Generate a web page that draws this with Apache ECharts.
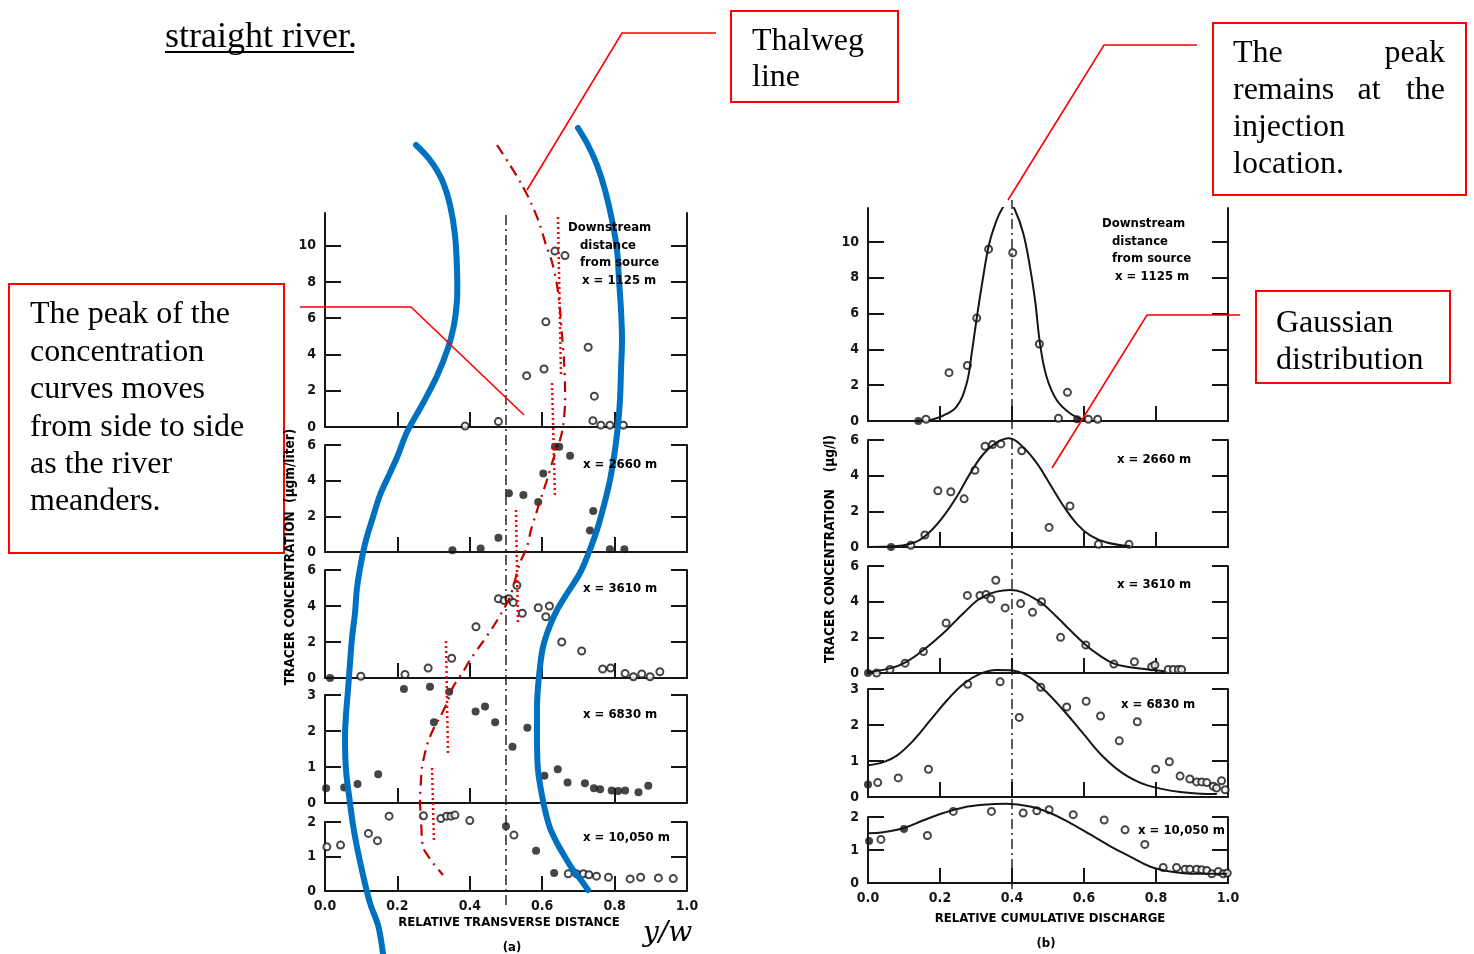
<!DOCTYPE html>
<html>
<head>
<meta charset="utf-8">
<script src="https://cdn.jsdelivr.net/npm/echarts@6/dist/echarts.min.js"></script>
<title>Tracer concentration profiles</title>
<style>
  html, body { margin: 0; padding: 0; background: #fff; }
</style>
</head>
<body>
<div id="main" style="width:1474px;height:954px;"></div>
<script type="text/javascript">
// downstream stations and tick values
var distances = ['1125', '2660', '3610', '6830', '10,050'];
var xTicks = [0, 0.2, 0.4, 0.6, 0.8, 1.0];
var yTicks = [[0, 2, 4, 6, 8, 10], [0, 2, 4, 6], [0, 2, 4, 6], [0, 1, 2, 3], [0, 1, 2]];
var peakLineA = 0.5;   // dash-dot line, panel (a)
var peakLineB = 0.4;   // dash-dot line, panel (b)

// (a) relative transverse distance vs concentration
var a1125 = [[0.387,0.05],[0.479,0.3],[0.557,2.83],[0.605,3.2],[0.61,5.8],[0.635,9.7],[0.663,9.45],[0.727,4.4],[0.744,1.7],[0.74,0.35],[0.762,0.1],[0.787,0.1],[0.824,0.1]];
var a1125f = [];
var a2660 = [];
var a2660f = [[0.352,0.1],[0.43,0.2],[0.479,0.8],[0.508,3.3],[0.548,3.2],[0.589,2.8],[0.603,4.4],[0.635,5.9],[0.647,5.9],[0.677,5.4],[0.741,2.3],[0.732,1.2],[0.787,0.15],[0.827,0.15]];
var a3610 = [[0.099,0.1],[0.221,0.2],[0.285,0.55],[0.35,1.1],[0.417,2.85],[0.479,4.4],[0.495,4.3],[0.508,4.4],[0.52,4.2],[0.53,5.15],[0.545,3.6],[0.589,3.9],[0.62,4.0],[0.61,3.4],[0.654,2.0],[0.709,1.5],[0.767,0.5],[0.789,0.55],[0.829,0.25],[0.852,0.07],[0.875,0.22],[0.898,0.07],[0.925,0.35]];
var a3610f = [[0.014,0.0]];
var a6830 = [];
var a6830f = [[0.003,0.41],[0.053,0.43],[0.09,0.53],[0.147,0.8],[0.218,3.17],[0.29,3.23],[0.343,3.09],[0.301,2.24],[0.416,2.54],[0.442,2.68],[0.47,2.24],[0.518,1.56],[0.559,2.09],[0.606,0.76],[0.643,0.94],[0.67,0.57],[0.718,0.55],[0.743,0.41],[0.76,0.38],[0.792,0.35],[0.81,0.33],[0.829,0.35],[0.866,0.3],[0.893,0.48]];
var a10050 = [[0.005,1.28],[0.043,1.33],[0.12,1.67],[0.145,1.46],[0.177,2.17],[0.272,2.18],[0.32,2.1],[0.336,2.17],[0.348,2.17],[0.359,2.2],[0.4,2.04],[0.522,1.62],[0.672,0.5],[0.695,0.5],[0.714,0.5],[0.729,0.47],[0.75,0.43],[0.783,0.4],[0.843,0.35],[0.872,0.4],[0.921,0.38],[0.962,0.36]];
var a10050f = [[0.5,1.88],[0.583,1.17],[0.633,0.52]];

// (b) relative cumulative discharge vs concentration
var b1125 = [[0.161,0.1],[0.225,2.7],[0.276,3.1],[0.302,5.75],[0.335,9.6],[0.402,9.4],[0.476,4.3],[0.554,1.6],[0.529,0.15],[0.612,0.1],[0.638,0.1]];
var b1125f = [[0.14,0],[0.581,0.1]];
var b2660 = [[0.119,0.1],[0.158,0.67],[0.194,3.15],[0.23,3.1],[0.267,2.7],[0.297,4.3],[0.325,5.65],[0.346,5.75],[0.369,5.78],[0.427,5.4],[0.503,1.1],[0.561,2.3],[0.64,0.15],[0.725,0.15]];
var b2660f = [[0.064,0]];
var b3610 = [[0.024,0],[0.061,0.2],[0.103,0.55],[0.154,1.2],[0.217,2.8],[0.276,4.35],[0.311,4.35],[0.328,4.4],[0.341,4.15],[0.355,5.2],[0.381,3.65],[0.424,3.9],[0.457,3.4],[0.482,4.0],[0.535,2.0],[0.605,1.57],[0.683,0.5],[0.74,0.63],[0.788,0.35],[0.797,0.45],[0.834,0.2],[0.848,0.2],[0.862,0.2],[0.871,0.2]];
var b3610f = [[0,0]];
var b6830 = [[0.027,0.4],[0.084,0.53],[0.168,0.77],[0.277,3.13],[0.367,3.2],[0.42,2.21],[0.48,3.05],[0.552,2.5],[0.606,2.66],[0.646,2.25],[0.698,1.56],[0.748,2.09],[0.799,0.77],[0.837,0.98],[0.867,0.58],[0.894,0.5],[0.913,0.42],[0.927,0.42],[0.941,0.4],[0.959,0.3],[0.968,0.25],[0.982,0.45],[0.992,0.2]];
var b6830f = [[0,0.35]];
var b10050 = [[0.036,1.32],[0.165,1.44],[0.237,2.17],[0.343,2.17],[0.431,2.12],[0.469,2.19],[0.503,2.22],[0.57,2.07],[0.656,1.91],[0.714,1.61],[0.769,1.17],[0.82,0.47],[0.857,0.47],[0.881,0.42],[0.894,0.42],[0.913,0.42],[0.927,0.4],[0.941,0.38],[0.955,0.28],[0.973,0.35],[0.987,0.28],[0.998,0.3]];
var b10050f = [[0.003,1.27],[0.1,1.64]];

// fitted gaussian curves in (b)
var bFit1125 = [[0.171,0.05],[0.209,0.3],[0.246,0.8],[0.274,2.1],[0.288,3.78],[0.302,5.74],[0.32,8.06],[0.337,9.93],[0.357,11.2],[0.371,11.8],[0.39,12.3],[0.408,11.8],[0.431,10.5],[0.45,8.6],[0.464,6.76],[0.478,4.3],[0.496,2.47],[0.524,1.17],[0.561,0.43],[0.598,0.06]];
var bFit2660 = [[0,0],[0.08,0.05],[0.135,0.3],[0.172,0.85],[0.209,1.7],[0.246,2.8],[0.283,4.1],[0.32,5.2],[0.357,5.85],[0.392,6.1],[0.431,5.6],[0.469,4.7],[0.506,3.5],[0.543,2.3],[0.58,1.3],[0.617,0.65],[0.663,0.25],[0.728,0.05]];
var bFit3610 = [[0,0.05],[0.061,0.26],[0.107,0.63],[0.154,1.29],[0.209,2.23],[0.265,3.35],[0.32,4.28],[0.394,4.65],[0.469,4.1],[0.524,3.16],[0.561,2.41],[0.605,1.57],[0.635,1.1],[0.681,0.54],[0.728,0.32],[0.777,0.2],[0.824,0.1]];
var bFit6830 = [[0,0.88],[0.043,0.97],[0.08,1.15],[0.126,1.57],[0.172,2.12],[0.219,2.68],[0.265,3.14],[0.311,3.42],[0.357,3.53],[0.394,3.52],[0.44,3.38],[0.487,3.0],[0.543,2.41],[0.598,1.76],[0.654,1.11],[0.709,0.65],[0.774,0.33],[0.867,0.14],[0.969,0.08]];
var bFit10050 = [[0,1.51],[0.043,1.54],[0.098,1.66],[0.154,1.9],[0.209,2.12],[0.265,2.29],[0.32,2.37],[0.385,2.4],[0.45,2.32],[0.506,2.12],[0.561,1.82],[0.617,1.47],[0.672,1.12],[0.728,0.8],[0.783,0.5],[0.839,0.35],[0.913,0.28],[0.997,0.28]];

var openA = [a1125, a2660, a3610, a6830, a10050];
var fillA = [a1125f, a2660f, a3610f, a6830f, a10050f];
var openB = [b1125, b2660, b3610, b6830, b10050];
var fillB = [b1125f, b2660f, b3610f, b6830f, b10050f];
var fitsB = [bFit1125, bFit2660, bFit3610, bFit6830, bFit10050];

// ---- layout (pixels): [top, zeroLine, yMax] per strip ----
var panels = [
  { left: 325, width: 362, rows: [[213, 427, 11.8], [445, 552, 6], [570, 678, 6], [695, 803, 3], [822, 891, 2]],
    open: openA, fill: fillA, fits: null, center: peakLineA, cTop: 212, cBottom: 905 },
  { left: 868, width: 360, rows: [[208, 421, 11.9], [440, 547, 6], [566, 673, 6], [689, 797, 3], [817, 883, 2]],
    open: openB, fill: fillB, fits: fitsB, center: peakLineB, cTop: 200, cBottom: 889 }
];

var INK = '#161616';
var tickFont = { color: INK, fontSize: 14, fontWeight: 'bold', fontFamily: '"DejaVu Sans Condensed", "DejaVu Sans", sans-serif' };

var grids = [], xAxes = [], yAxes = [], series = [];

panels.forEach(function (p, pi) {
  p.rows.forEach(function (row, ri) {
    var gi = grids.length;
    grids.push({ left: p.left, width: p.width, top: row[0], height: row[1] - row[0], outerBoundsMode: 'none' });
    xAxes.push({
      gridIndex: gi, type: 'value', min: 0, max: 1,
      axisLine: { show: true, onZero: false, lineStyle: { color: INK, width: 2 } },
      axisTick: { show: true, inside: true, length: 15, customValues: [0.2, 0.4, 0.6, 0.8], lineStyle: { color: INK, width: 2 } },
      axisLabel: Object.assign({ show: ri === 4, margin: 8, customValues: xTicks, formatter: function (v) { return v.toFixed(1); } }, tickFont),
      splitLine: { show: false }
    });
    var ticks = yTicks[ri];
    var inner = ticks.filter(function (t) { return t > 0; });
    yAxes.push({
      gridIndex: gi, type: 'value', min: 0, max: row[2], position: 'left',
      axisLine: { show: true, onZero: false, lineStyle: { color: INK, width: 2 } },
      axisTick: { show: true, inside: true, length: 16, customValues: inner, lineStyle: { color: INK, width: 2 } },
      axisLabel: Object.assign({ margin: 9, customValues: ticks }, tickFont),
      splitLine: { show: false }
    });
    yAxes.push({
      gridIndex: gi, type: 'value', min: 0, max: row[2], position: 'right',
      axisLine: { show: true, onZero: false, lineStyle: { color: INK, width: 2 } },
      axisTick: { show: true, inside: true, length: 16, customValues: inner, lineStyle: { color: INK, width: 2 } },
      axisLabel: { show: false },
      splitLine: { show: false }
    });
    var yi = yAxes.length - 2;
    if (p.fits) {
      series.push({
        type: 'line', xAxisIndex: gi, yAxisIndex: yi, data: p.fits[ri],
        smooth: 0.4, showSymbol: false, clip: ri === 0, silent: true,
        lineStyle: { color: INK, width: 2 }
      });
    }
    series.push({
      type: 'scatter', xAxisIndex: gi, yAxisIndex: yi, data: p.open[ri], clip: false,
      symbol: 'emptyCircle', symbolSize: 7,
      itemStyle: { color: INK, borderColor: INK, borderWidth: 1.6 }
    });
    series.push({
      type: 'scatter', xAxisIndex: gi, yAxisIndex: yi, data: p.fill[ri], clip: false,
      symbol: 'circle', symbolSize: 8,
      itemStyle: { color: INK }
    });
  });
});

// full-height overlay grids for the dash-dot reference lines
panels.forEach(function (p) {
  var gi = grids.length;
  grids.push({ left: p.left, width: p.width, top: p.cTop, height: p.cBottom - p.cTop, outerBoundsMode: 'none' });
  xAxes.push({ gridIndex: gi, type: 'value', min: 0, max: 1, show: false });
  yAxes.push({ gridIndex: gi, type: 'value', min: 0, max: 1, show: false });
  series.push({
    type: 'line', xAxisIndex: gi, yAxisIndex: yAxes.length - 1, silent: true,
    data: [[p.center, 0], [p.center, 1]], showSymbol: false,
    lineStyle: { color: INK, width: 1.4, type: [10, 4, 2, 4] }
  });
});

// ---- annotations drawn over the scanned figure ----
var riverLeft = [[416,145],[430,160],[442,180],[450,205],[455,235],[457,270],[457,300],[454,325],[448,348],[437,376],[422,405],[407,432],[398,455],[390,473],[380,495],[373,517],[366,540],[361,563],[357,588],[355,613],[352,638],[350,663],[348,690],[346,715],[345,737],[346,770],[350,803],[353,825],[357,847],[363,875],[370,903],[378,925],[381,940],[383,954]];
var riverRight = [[578,128],[588,145],[597,165],[605,190],[612,220],[617,250],[619,280],[621,310],[622,340],[621,370],[620,400],[618,425],[615,450],[610,480],[604,505],[597,530],[589,552],[580,573],[568,592],[557,610],[549,628],[543,647],[540,667],[538,687],[537,705],[537,720],[537,745],[538,770],[541,790],[545,810],[550,828],[557,843],[565,857],[573,870],[581,880],[588,890]];
var thalweg = [[497,145],[510,165],[522,185],[532,205],[540,225],[546,245],[552,262],[557,285],[560,310],[562,335],[564,360],[565,387],[565,405],[563,427],[560,440],[553,460],[547,480],[541,498],[535,517],[531,530],[527,547],[520,563],[510,597],[502,612],[493,627],[482,643],[470,660],[463,672],[453,687],[447,703],[440,717],[433,730],[428,742],[425,753],[422,767],[421,780],[420,800],[421,820],[423,847],[428,856],[433,863],[443,875]];
var peakMarks = [[[558,217],[561,377]], [[552,383],[555,498]], [[516,510],[518,625]], [[446,641],[448,755]], [[432,768],[434,842]]];
var callouts = [
  [[716,33],[622,33],[527,190]],
  [[1197,45],[1104,45],[1008,200]],
  [[1240,315],[1147,315],[1052,468]],
  [[300,307],[411,307],[524,415]]
];
var boxes = [[731,11,167,91], [1213,23,253,172], [1256,291,194,92], [9,284,275,269]];

var serif = '32px "Liberation Serif", "Times New Roman", serif';
var cond = '"DejaVu Sans Condensed", "DejaVu Sans", sans-serif';

// text placed with its element origin at (x, y); vertical alignment is middle
function txt(t, x, y, font, align, rot) {
  return {
    type: 'text', z: 120, x: x, y: y, rotation: rot || 0,
    style: { text: t, x: 0, y: 0, font: font, fill: '#000',
      align: align || 'left', textAlign: align || 'left',
      verticalAlign: 'middle', textVerticalAlign: 'middle' }
  };
}
// serif lines given by baseline
function serifLine(t, x, base, align) { return txt(t, x, base - 8, serif, align); }

var graphics = [];
graphics.push({ type: 'polyline', z: 100, shape: { points: riverLeft, smooth: 0.35 }, style: { stroke: '#0070C0', lineWidth: 6, fill: null, lineCap: 'round' } });
graphics.push({ type: 'polyline', z: 100, shape: { points: riverRight, smooth: 0.35 }, style: { stroke: '#0070C0', lineWidth: 6, fill: null, lineCap: 'round' } });
graphics.push({ type: 'polyline', z: 101, shape: { points: thalweg, smooth: 0.3 }, style: { stroke: '#C00000', lineWidth: 2.2, fill: null, lineDash: [11, 6, 2, 6] } });
peakMarks.forEach(function (m) {
  graphics.push({ type: 'polyline', z: 101, shape: { points: m }, style: { stroke: '#FF0000', lineWidth: 2.5, fill: null, lineDash: [2, 3] } });
});
callouts.forEach(function (c) {
  graphics.push({ type: 'polyline', z: 102, shape: { points: c }, style: { stroke: '#FF0000', lineWidth: 1.6, fill: null } });
});
boxes.forEach(function (b) {
  graphics.push({ type: 'rect', z: 102, shape: { x: b[0], y: b[1], width: b[2], height: b[3] }, style: { stroke: '#FF0000', lineWidth: 2, fill: '#fff' } });
});

// heading fragment
graphics.push(txt('straight river.', 165, 38, '36px "Liberation Serif", serif'));
graphics.push({ type: 'line', z: 120, shape: { x1: 165, y1: 52, x2: 354, y2: 52 }, style: { stroke: '#000', lineWidth: 2 } });

// callout texts
graphics.push(serifLine('Thalweg', 752, 50));
graphics.push(serifLine('line', 752, 86));
graphics.push(serifLine('The', 1233, 62));
graphics.push(serifLine('peak', 1445, 62, 'right'));
graphics.push(serifLine('remains', 1233, 99));
graphics.push(serifLine('at', 1369, 99, 'center'));
graphics.push(serifLine('the', 1445, 99, 'right'));
graphics.push(serifLine('injection', 1233, 136));
graphics.push(serifLine('location.', 1233, 173));
graphics.push(serifLine('Gaussian', 1276, 332));
graphics.push(serifLine('distribution', 1276, 369));
['The peak of the', 'concentration', 'curves moves', 'from side to side', 'as the river', 'meanders.'].forEach(function (s, i) {
  graphics.push(serifLine(s, 30, 323 + i * 37.4));
});

// station labels inside the strips
var labFont = 'bold 13px ' + cond;
[[568, 580, 582], [1102, 1112, 1115]].forEach(function (xs, pi) {
  var y0 = pi === 0 ? 228 : 224;
  graphics.push(txt('Downstream', xs[0], y0, labFont));
  graphics.push(txt('distance', xs[1], y0 + 17.5, labFont));
  graphics.push(txt('from source', xs[1], y0 + 35, labFont));
  graphics.push(txt('x = ' + distances[0] + ' m', xs[2], y0 + 53, labFont));
});
var labPosA = [[583, 465], [583, 589], [583, 715], [583, 838]];
var labPosB = [[1117, 460], [1117, 585], [1121, 705], [1138, 831]];
for (var k = 1; k < distances.length; k++) {
  graphics.push(txt('x = ' + distances[k] + ' m', labPosA[k - 1][0], labPosA[k - 1][1], labFont));
  graphics.push(txt('x = ' + distances[k] + ' m', labPosB[k - 1][0], labPosB[k - 1][1], labFont));
}

// axis titles
graphics.push(txt('TRACER CONCENTRATION  (\u03bcgm/liter)', 290, 557, 'bold 13.5px ' + cond, 'center', Math.PI / 2));
graphics.push(txt('TRACER CONCENTRATION    (\u03bcg/l)', 830, 549, 'bold 13.5px ' + cond, 'center', Math.PI / 2));
graphics.push(txt('RELATIVE TRANSVERSE DISTANCE', 509, 923, 'bold 13px ' + cond, 'center'));
graphics.push(txt('(a)', 512, 948, 'bold 13px ' + cond, 'center'));
graphics.push(txt('RELATIVE CUMULATIVE DISCHARGE', 1050, 919, 'bold 13px ' + cond, 'center'));
graphics.push(txt('(b)', 1046, 944, 'bold 13px ' + cond, 'center'));
graphics.push(txt('y/w', 643, 934, 'italic 28px "DejaVu Serif", serif'));

var myChart = echarts.init(document.getElementById('main'));
myChart.setOption({
  backgroundColor: '#fff',
  animation: false,
  grid: grids,
  xAxis: xAxes,
  yAxis: yAxes,
  series: series,
  graphic: graphics
});
</script>
</body>
</html>
